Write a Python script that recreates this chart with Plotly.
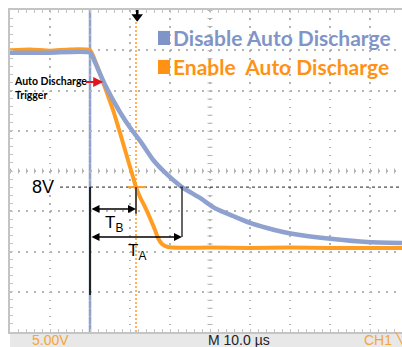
import plotly.graph_objects as go

# ---- data (time in µs, voltage in V; 10 µs/div, 5 V/div) ----
orange_t = [0, 5, 10, 15, 20, 21.5, 23.25, 25.75, 28.25, 30.75, 31.5, 32.5, 33.75, 35, 36.25, 37, 38, 39.5, 42.5, 50, 60, 70, 80, 90, 98]
orange_v = [25.0, 25.1, 24.95, 25.1, 25.0, 23.4, 21.06, 17.58, 13.48, 9.25, 8.0, 6.77, 5.53, 4.16, 2.67, 1.68, 0.93, 0.56, 0.46, 0.5, 0.45, 0.5, 0.45, 0.42, 0.45]

blue_t = [0, 10, 20, 21.25, 23.75, 27.5, 30, 33, 35.75, 39, 43, 47.5, 51.5, 55.75, 60, 64.25, 68, 72.5, 80.75, 89.25, 98]
blue_v = [24.7, 24.7, 24.7, 23.5, 20.7, 17.3, 15.4, 13.4, 11.4, 9.7, 8.0, 6.65, 5.3, 4.41, 3.55, 2.92, 2.45, 2.05, 1.55, 1.18, 1.06]

series_names = ["Disable Auto Discharge", "Enable  Auto Discharge"]
TRIGGER_T = 20.0      # trigger position
CURSOR_T = 31.5       # orange cursor (T_B end)
CROSS_A_T = 43.0      # blue crosses 8 V (T_A end)
LEVEL_V = 8.0
TB_V = 5.28
TA_V = 1.8
X_RANGE = [0, 98]
Y_RANGE = [-10, 30]

BLUE = "#8ea1cf"
BLUE_TXT = "#7f95c8"
ORANGE = "#ff9c22"
ORANGE_TXT = "#ff9214"
GRID = "#b4b4b4"
BORDER = "#c4c4c4"

fig = go.Figure()
fig.add_trace(go.Scatter(x=orange_t, y=orange_v, mode="lines", name=series_names[1],
                         line=dict(color=ORANGE, width=4, shape="spline", smoothing=0.5), showlegend=False))
fig.add_trace(go.Scatter(x=blue_t, y=blue_v, mode="lines", name=series_names[0],
                         line=dict(color=BLUE, width=4.5, shape="spline", smoothing=0.5), showlegend=False))
# cursor marker at top
fig.add_trace(go.Scatter(x=[CURSOR_T + 0.3], y=[29.15], mode="markers",
                         marker=dict(symbol="triangle-down", size=10, color="black"),
                         showlegend=False, hoverinfo="skip", cliponaxis=False))

shapes = []
# center crosshair tick marks
shapes.append(dict(type="line", xref="x", yref="y", x0=50, x1=50, y0=30, y1=-10,
                   line=dict(color=GRID, width=5, dash="1px,7.05px"), layer="below"))
shapes.append(dict(type="line", xref="x", yref="y", x0=0, x1=98, y0=10, y1=10,
                   line=dict(color=GRID, width=5, dash="1px,7px"), layer="below"))
# trigger line (blue)
shapes.append(dict(type="line", xref="x", yref="y", x0=TRIGGER_T, x1=TRIGGER_T, y0=Y_RANGE[0], y1=Y_RANGE[1],
                   line=dict(color=BLUE, width=2.5), layer="below"))
# orange dotted cursor
shapes.append(dict(type="line", xref="x", yref="y", x0=CURSOR_T, x1=CURSOR_T, y0=Y_RANGE[0], y1=Y_RANGE[1],
                   line=dict(color=ORANGE, width=1.5, dash="2px,2px"), layer="below"))
# cursor marker stem
shapes.append(dict(type="line", xref="x", yref="y", x0=CURSOR_T + 0.3, x1=CURSOR_T + 0.3, y0=30, y1=29.3,
                   line=dict(color="black", width=2.5)))
# 8 V dashed level
shapes.append(dict(type="line", xref="x", yref="y", x0=12.5, x1=98, y0=LEVEL_V, y1=LEVEL_V,
                   line=dict(color="#222222", width=1, dash="3px,3px")))
# orange crossing bar
shapes.append(dict(type="line", xref="x", yref="y", x0=CURSOR_T - 2, x1=CURSOR_T + 2.5, y0=LEVEL_V, y1=LEVEL_V,
                   line=dict(color=ORANGE, width=2)))
# black measurement verticals
shapes.append(dict(type="line", xref="x", yref="y", x0=TRIGGER_T, x1=TRIGGER_T, y0=LEVEL_V, y1=-5.4,
                   line=dict(color="#222222", width=2)))
shapes.append(dict(type="line", xref="x", yref="y", x0=CURSOR_T, x1=CURSOR_T, y0=LEVEL_V, y1=4.7,
                   line=dict(color="#5a4a3a", width=2)))
shapes.append(dict(type="line", xref="x", yref="y", x0=CROSS_A_T, x1=CROSS_A_T, y0=LEVEL_V, y1=TA_V,
                   line=dict(color="#333333", width=1.5)))
# legend squares
shapes.append(dict(type="rect", xref="x", yref="y", x0=37, x1=40, y0=25.65, y1=27.4,
                   fillcolor=BLUE_TXT, line=dict(width=0)))
shapes.append(dict(type="rect", xref="x", yref="y", x0=37, x1=40, y0=22.05, y1=23.8,
                   fillcolor=ORANGE_TXT, line=dict(width=0)))
# bottom status band
shapes.append(dict(type="rect", xref="paper", yref="paper", x0=0, x1=1, y0=-15/322, y1=-1.5/322,
                   fillcolor="#e8e8e8", line=dict(width=0), layer="below"))

annotations = []
annotations.append(dict(x=40.3, y=26.6, xref="x", yref="y", text="<b>" + series_names[0] + "</b>",
                        showarrow=False, xanchor="left", yanchor="middle",
                        font=dict(family="Lato", size=21, color=BLUE_TXT)))
annotations.append(dict(x=40.3, y=23.0, xref="x", yref="y", text="<b>" + series_names[1].replace("  ", "&nbsp; ") + "</b>",
                        showarrow=False, xanchor="left", yanchor="middle",
                        font=dict(family="Lato", size=21, color=ORANGE_TXT)))
annotations.append(dict(x=0.5, y=20.3, xref="x", yref="y", text="<b>Auto Discharge<br>Trigger</b>",
                        showarrow=False, xanchor="left", yanchor="middle", align="left",
                        font=dict(family="Lato", size=10.5, color="black")))
annotations.append(dict(x=23.3, y=21.06, ax=18.6, ay=21.06, xref="x", yref="y", axref="x", ayref="y",
                        text="", showarrow=True, arrowhead=2, arrowsize=1, arrowwidth=2,
                        arrowcolor="#e3151c", standoff=0, startstandoff=0))
annotations.append(dict(x=CURSOR_T, y=TB_V, ax=TRIGGER_T, ay=TB_V, xref="x", yref="y", axref="x", ayref="y",
                        text="", showarrow=True, arrowhead=2, startarrowhead=2, arrowside="end+start",
                        arrowsize=1, startarrowsize=1, arrowwidth=1.6, arrowcolor="black",
                        standoff=0, startstandoff=0))
annotations.append(dict(x=CROSS_A_T, y=TA_V, ax=TRIGGER_T, ay=TA_V, xref="x", yref="y", axref="x", ayref="y",
                        text="", showarrow=True, arrowhead=2, startarrowhead=2, arrowside="end+start",
                        arrowsize=1, startarrowsize=1, arrowwidth=1.6, arrowcolor="black",
                        standoff=0, startstandoff=0))
annotations.append(dict(x=26.0, y=3.4, xref="x", yref="y", text="T<sub>B</sub>", showarrow=False,
                        font=dict(family="Liberation Sans", size=17, color="black")))
annotations.append(dict(x=31.8, y=-0.1, xref="x", yref="y", text="T<sub>A</sub>", showarrow=False,
                        font=dict(family="Liberation Sans", size=17, color="black")))
annotations.append(dict(x=8.3, y=LEVEL_V, xref="x", yref="y", text="8V", showarrow=False,
                        font=dict(family="Liberation Sans", size=18, color="black")))
# status bar texts
annotations.append(dict(x=(30 - 10) / 392, y=-8/322, xref="paper", yref="paper", text="5.00V",
                        showarrow=False, xanchor="left", yanchor="middle",
                        font=dict(family="Liberation Sans", size=14, color="#f3a53c")))
annotations.append(dict(x=(239 - 10) / 392, y=-8/322, xref="paper", yref="paper", text="M 10.0 µs",
                        showarrow=False, yanchor="middle",
                        font=dict(family="Liberation Sans", size=14, color="#222222")))
annotations.append(dict(x=(362 - 10) / 392, y=-8/322, xref="paper", yref="paper", text="CH1 ╲",
                        showarrow=False, xanchor="left", yanchor="middle",
                        font=dict(family="Liberation Sans", size=14, color="#f3a53c")))

fig.update_layout(
    width=402, height=347,
    margin=dict(l=10, r=0, t=10, b=15),
    paper_bgcolor="white", plot_bgcolor="white",
    shapes=shapes, annotations=annotations,
    showlegend=False,
    xaxis=dict(range=X_RANGE, dtick=10, tick0=0, showgrid=True, gridcolor=GRID, gridwidth=1.5,
               griddash="1.5px,6.55px", zeroline=False, showticklabels=False,
               ticks="inside", ticklen=3, tickcolor=BORDER, tickwidth=1,
               minor=dict(dtick=2, ticks="inside", ticklen=3, tickcolor=BORDER, showgrid=False),
               showline=True, linecolor=BORDER, linewidth=1.5, mirror="ticks", fixedrange=True),
    yaxis=dict(range=Y_RANGE, dtick=5, tick0=0, showgrid=True, gridcolor=GRID, gridwidth=1.5,
               griddash="1.5px,6.5px", zeroline=False, showticklabels=False,
               ticks="inside", ticklen=3, tickcolor=BORDER, tickwidth=1,
               minor=dict(dtick=1, ticks="inside", ticklen=3, tickcolor=BORDER, showgrid=False),
               showline=True, linecolor=BORDER, linewidth=1.5, mirror=False, fixedrange=True),
)

fig.write_html("out.html", config={"displayModeBar": False},
               post_script="document.body.style.margin='0';")
